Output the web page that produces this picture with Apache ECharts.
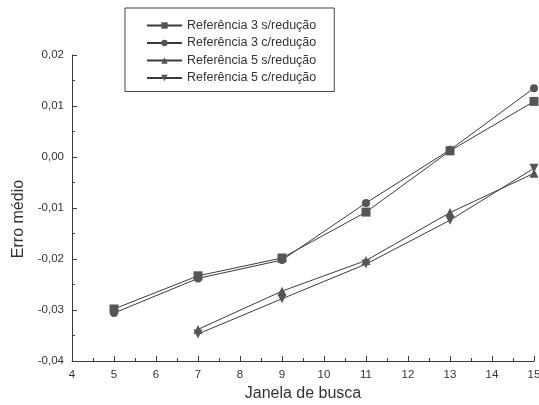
<!DOCTYPE html>
<html>
<head>
<meta charset="utf-8">
<script src="https://cdn.jsdelivr.net/npm/echarts@6/dist/echarts.min.js"></script>
<style>
  html, body { margin: 0; padding: 0; background: #fff; }
  #chart { width: 539px; height: 405px; }
</style>
</head>
<body>
<div id="chart"></div>
<script>
// janela de busca
const janelaRef3 = [5, 7, 9, 11, 13, 15]
const janelaRef5 = [7, 9, 11, 13, 15]

// erro médio
const ref3SemReducao = [-0.0298, -0.0233, -0.0198, -0.0108, 0.0012, 0.0109]
const ref3ComReducao = [-0.0306, -0.0238, -0.0202, -0.0090, 0.0014, 0.0135]
const ref5SemReducao = [-0.0338, -0.0263, -0.0203, -0.0109, -0.0032]
const ref5ComReducao = [-0.0347, -0.0278, -0.0210, -0.0124, -0.0022]

const nomes = [
  'Referência 3 s/redução',
  'Referência 3 c/redução',
  'Referência 5 s/redução',
  'Referência 5 c/redução'
]
const simbolos = ['rect', 'circle', 'triangle', 'path://M0,0L10,0L5,10Z']

const cor = '#3a3a3a'
const fonte = 'Liberation Sans, Arial, sans-serif'

function pares(xs, ys) {
  return xs.map((x, i) => [x, ys[i]])
}

const dados = [
  pares(janelaRef3, ref3SemReducao),
  pares(janelaRef3, ref3ComReducao),
  pares(janelaRef5, ref5SemReducao),
  pares(janelaRef5, ref5ComReducao)
]

let chart = echarts.init(document.getElementById('chart'))
chart.setOption({
  animation: false,
  textStyle: { fontFamily: fonte },
  grid: { left: 72, right: 5, top: 55, bottom: 44, outerBoundsMode: 'none' },
  legend: {
    orient: 'vertical',
    left: 125,
    top: 8,
    padding: [11, 18, 7, 21],
    borderColor: '#444',
    borderWidth: 1,
    itemWidth: 35,
    itemHeight: 8,
    itemGap: 4.5,
    textStyle: { fontFamily: fonte, fontSize: 12.5, color: '#333' },
    data: nomes
  },
  xAxis: {
    type: 'value',
    min: 4,
    max: 15,
    interval: 1,
    name: 'Janela de busca',
    nameLocation: 'middle',
    nameGap: 22,
    nameTextStyle: { fontSize: 16, color: '#333' },
    axisLine: { onZero: false, lineStyle: { color: cor, width: 1 } },
    axisTick: { inside: true, length: 5, lineStyle: { color: cor } },
    minorTick: { show: true, splitNumber: 2, length: 3, lineStyle: { color: cor } },
    axisLabel: { color: '#333', fontSize: 11.5, margin: 8 },
    splitLine: { show: false }
  },
  yAxis: {
    type: 'value',
    min: -0.04,
    max: 0.02,
    interval: 0.01,
    name: 'Erro médio',
    nameLocation: 'middle',
    nameGap: 40,
    nameTextStyle: { fontSize: 16, color: '#333', padding: [0, 22, 0, 0] },
    axisLine: { show: true, onZero: false, lineStyle: { color: cor, width: 1 } },
    axisTick: { show: true, inside: true, length: 5, lineStyle: { color: cor } },
    minorTick: { show: true, splitNumber: 2, length: 3, lineStyle: { color: cor } },
    axisLabel: {
      color: '#333',
      fontSize: 11.5,
      margin: 8,
      formatter: v => v.toFixed(2).replace('.', ',')
    },
    splitLine: { show: false }
  },
  series: dados.map((d, i) => ({
    name: nomes[i],
    type: 'line',
    data: d,
    symbol: simbolos[i],
    symbolSize: i === 1 ? 8 : 9,
    showSymbol: true,
    lineStyle: { color: cor, width: 1 },
    itemStyle: { color: '#555', borderWidth: 0 }
  }))
})
</script>
</body>
</html>
